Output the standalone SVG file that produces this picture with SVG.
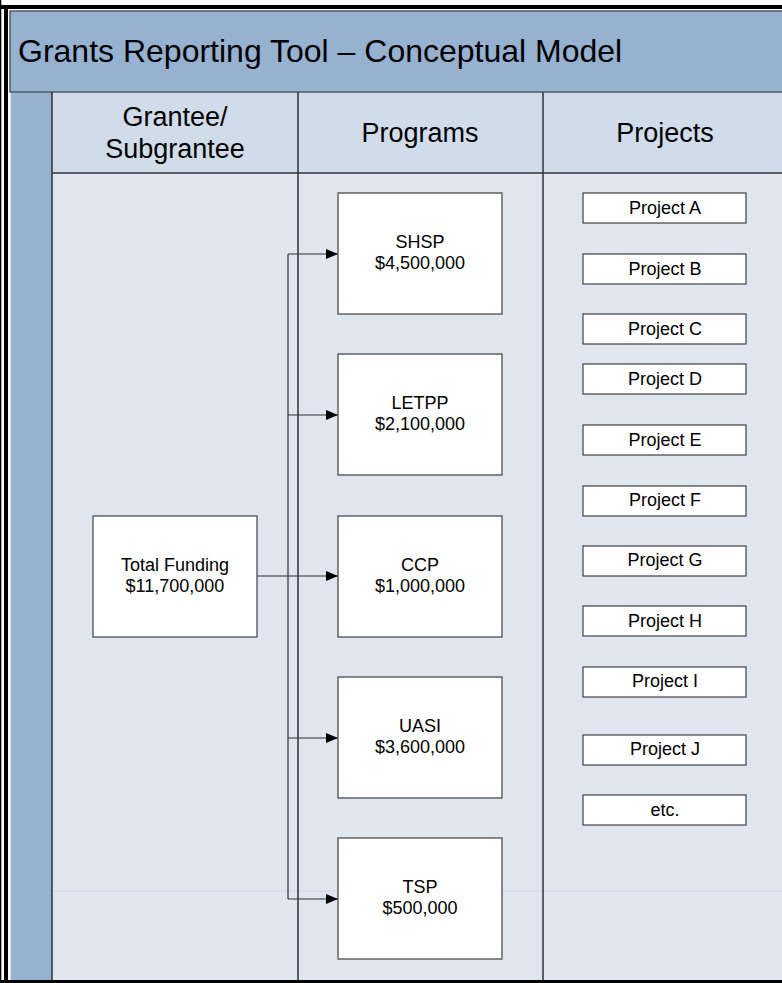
<svg xmlns="http://www.w3.org/2000/svg" width="782" height="983" viewBox="0 0 782 983">
<style>
text{font-family:"Liberation Sans",Arial,sans-serif;fill:#000}
.hdr{font-size:27px;text-anchor:middle}
.box{fill:#fff;stroke:#404040;stroke-width:1.2}
.lbl{font-size:18px;text-anchor:middle}
.conn{fill:none;stroke:#303030;stroke-width:1.2}
.lane{stroke:#303030;stroke-width:1.5;fill:none}
</style>
<defs>
<marker id="arr" markerWidth="12" markerHeight="10" refX="12" refY="5" orient="auto" markerUnits="userSpaceOnUse">
<path d="M0,0 L12,5 L0,10 Z" fill="#000"/>
</marker>
</defs>
<rect x="0" y="0" width="782" height="983" fill="#fff"/>
<g id="frame">
<rect x="10" y="92" width="772" height="889" fill="#dfe6f0"/>
<rect x="52" y="92" width="730" height="81" fill="#d0dcea"/>
<rect x="11" y="92" width="41" height="889" fill="#97b1d0"/>
<line x1="52" y1="891" x2="782" y2="891" stroke="#cdd8e6" stroke-width="1"/>
<rect x="10" y="11" width="774" height="81" fill="#97b1d0" stroke="#505a66" stroke-width="1.5"/>
<text x="18" y="62" font-size="32">Grants Reporting Tool – Conceptual Model</text>
<line class="lane" x1="52" y1="92" x2="52" y2="983"/>
<line class="lane" x1="298" y1="92" x2="298" y2="983"/>
<line class="lane" x1="543" y1="92" x2="543" y2="983"/>
<line class="lane" x1="52" y1="173" x2="782" y2="173"/>
<rect x="0" y="5" width="782" height="4" fill="#000"/>
<rect x="4" y="5" width="4" height="978" fill="#000"/>
<rect x="0" y="0" width="1.3" height="983" fill="#000"/>
<rect x="0" y="980" width="782" height="3" fill="#000"/>
<text class="hdr" x="175" y="126">Grantee/</text>
<text class="hdr" x="175" y="158">Subgrantee</text>
<text class="hdr" x="420" y="142">Programs</text>
<text class="hdr" x="665" y="142">Projects</text>
</g>
<g id="connectors">
<polyline class="conn" points="257,576 338,576" marker-end="url(#arr)"/>
<polyline class="conn" points="288,254 288,899"/>
<polyline class="conn" points="288,254 338,254" marker-end="url(#arr)"/>
<polyline class="conn" points="288,415 338,415" marker-end="url(#arr)"/>
<polyline class="conn" points="288,738 338,738" marker-end="url(#arr)"/>
<polyline class="conn" points="288,899 338,899" marker-end="url(#arr)"/>
</g>
<g id="total"><rect class="box" x="93" y="516" width="164" height="121"/><text class="lbl" x="175" y="571">Total Funding</text><text class="lbl" x="175" y="592">$11,700,000</text></g>
<g id="shsp"><rect class="box" x="338" y="193" width="164" height="121"/><text class="lbl" x="420" y="248">SHSP</text><text class="lbl" x="420" y="269">$4,500,000</text></g>
<g id="letpp"><rect class="box" x="338" y="354" width="164" height="121"/><text class="lbl" x="420" y="409">LETPP</text><text class="lbl" x="420" y="430">$2,100,000</text></g>
<g id="ccp"><rect class="box" x="338" y="516" width="164" height="121"/><text class="lbl" x="420" y="571">CCP</text><text class="lbl" x="420" y="592">$1,000,000</text></g>
<g id="uasi"><rect class="box" x="338" y="677" width="164" height="121"/><text class="lbl" x="420" y="732">UASI</text><text class="lbl" x="420" y="753">$3,600,000</text></g>
<g id="tsp"><rect class="box" x="338" y="838" width="164" height="121"/><text class="lbl" x="420" y="893">TSP</text><text class="lbl" x="420" y="914">$500,000</text></g>
<g id="projA"><rect class="box" x="583" y="193" width="163" height="30"/><text class="lbl" x="665" y="214">Project A</text></g>
<g id="projB"><rect class="box" x="583" y="254" width="163" height="30"/><text class="lbl" x="665" y="275">Project B</text></g>
<g id="projC"><rect class="box" x="583" y="314" width="163" height="30"/><text class="lbl" x="665" y="335">Project C</text></g>
<g id="projD"><rect class="box" x="583" y="364" width="163" height="30"/><text class="lbl" x="665" y="385">Project D</text></g>
<g id="projE"><rect class="box" x="583" y="425" width="163" height="30"/><text class="lbl" x="665" y="446">Project E</text></g>
<g id="projF"><rect class="box" x="583" y="486" width="163" height="30"/><text class="lbl" x="665" y="506">Project F</text></g>
<g id="projG"><rect class="box" x="583" y="546" width="163" height="30"/><text class="lbl" x="665" y="566">Project G</text></g>
<g id="projH"><rect class="box" x="583" y="606" width="163" height="30"/><text class="lbl" x="665" y="627">Project H</text></g>
<g id="projI"><rect class="box" x="583" y="667" width="163" height="30"/><text class="lbl" x="665" y="687">Project I</text></g>
<g id="projJ"><rect class="box" x="583" y="735" width="163" height="30"/><text class="lbl" x="665" y="755">Project J</text></g>
<g id="etc"><rect class="box" x="583" y="795" width="163" height="30"/><text class="lbl" x="665" y="816">etc.</text></g>
</svg>
